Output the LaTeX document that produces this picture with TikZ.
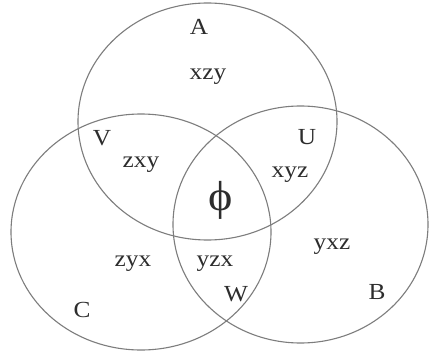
\documentclass[tikz,border=0pt]{standalone}
\usepackage{fontspec}
\setmainfont{Liberation Serif}
\begin{document}
\begin{tikzpicture}[x=1pt,y=-1pt,
  setline/.style={draw={rgb,255:red,125;green,125;blue,125},line width=1.1pt},
  lbl/.style={font=\fontsize{23}{23}\selectfont,text={rgb,255:red,45;green,45;blue,45},inner sep=0pt,xscale=1.1}]
\useasboundingbox[fill=white] (0,0) rectangle (429,356);
\draw[setline] (207.5,121.5) ellipse [x radius=129.5, y radius=118.5];
\draw[setline] (141,232) ellipse [x radius=130, y radius=118];
\draw[setline] (300.5,224.5) ellipse [x radius=127.5, y radius=118.5];
\node[lbl] (A) at (199,27) {A};
\node[lbl] (xzy) at (208,77) {xzy};
\node[lbl] (V) at (102,138) {V};
\node[lbl] (U) at (307,137) {U};
\node[lbl] (zxy) at (141,165) {zxy};
\node[lbl] (xyz) at (290,175) {xyz};
\node[lbl,font=\fontsize{42}{42}\selectfont,xscale=1] (phi) at (221,200) {ϕ};
\node[lbl] (yxz) at (332,247) {yxz};
\node[lbl] (zyx) at (133,264) {zyx};
\node[lbl] (yzx) at (215,264) {yzx};
\node[lbl] (W) at (236,294) {W};
\node[lbl] (B) at (377,292) {B};
\node[lbl] (C) at (82,310) {C};
\end{tikzpicture}
\end{document}
